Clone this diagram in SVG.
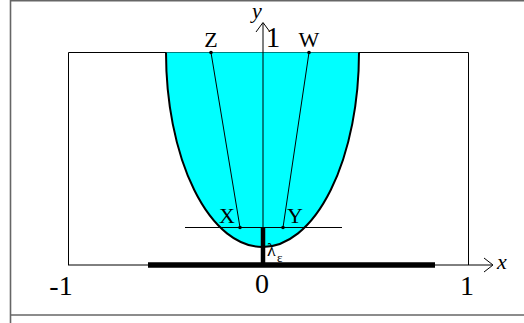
<svg xmlns="http://www.w3.org/2000/svg" width="524" height="323" viewBox="0 0 524 323">
<style>
text{font-family:"Liberation Serif","DejaVu Serif",serif;fill:#000}
.thin{stroke:#000;stroke-width:1;fill:none}
.thick{stroke:#000;fill:none}
.lbl{font-size:22px;text-anchor:middle}
.num{font-size:28px;text-anchor:middle}
</style>
<rect width="524" height="323" fill="#fff"/>
<path d="M10.5 323 V0.8 H524" stroke="#666" stroke-width="1.6" fill="none"/>
<path d="M10 315 H524" stroke="#666" stroke-width="1.6" fill="none"/>
<g id="frame">
<path d="M68.5 265 V52.5 H468.5 V265" class="thin" stroke-width="1.3"/>
</g>
<g id="region">
<path d="M166 52.5 A96.5 194.5 0 0 0 359 52.5 Z" fill="#00ffff" stroke="none"/>
<path d="M166 52.5 A96.5 194.5 0 0 0 359 52.5" fill="none" stroke="#000" stroke-width="2"/>
</g>
<g id="connectors">
<line x1="68" y1="265" x2="492" y2="265" class="thin"/>
<path d="M484 258 L493 265 L484 272" class="thin"/>
<line x1="263" y1="265" x2="263" y2="23" class="thin"/>
<path d="M256 32 L263 22.5 L270 32" class="thin"/>
<line x1="185" y1="227.5" x2="342" y2="227.5" class="thin"/>
<line x1="211" y1="52.5" x2="240" y2="227.5" class="thin"/>
<line x1="309" y1="52.5" x2="283" y2="227.5" class="thin"/>
<line x1="148" y1="265" x2="435" y2="265" class="thick" stroke-width="5.5"/>
<line x1="263" y1="228" x2="263" y2="266" class="thick" stroke-width="4.5"/>
</g>
<g id="points" fill="#000">
<circle cx="211" cy="52.5" r="1.8"/>
<circle cx="309" cy="52.5" r="1.8"/>
<circle cx="240" cy="227.5" r="1.8"/>
<circle cx="283" cy="227.5" r="1.8"/>
</g>
<g id="labels">
<text x="257" y="18" font-size="22" font-style="italic" text-anchor="middle">y</text>
<text x="211" y="47" class="lbl">Z</text>
<text x="273" y="47" font-size="29" text-anchor="middle">1</text>
<text x="309" y="47" class="lbl">W</text>
<text x="227" y="223" class="lbl">X</text>
<text x="295" y="223" class="lbl">Y</text>
<text x="267" y="256" font-size="18">λ</text>
<text x="277" y="262" font-size="13">ε</text>
<text x="502" y="269" font-size="22" font-style="italic" text-anchor="middle">x</text>
<text x="61" y="295" class="num">-1</text>
<text x="262" y="293" class="num">0</text>
<text x="467" y="295" class="num">1</text>
</g>
</svg>
